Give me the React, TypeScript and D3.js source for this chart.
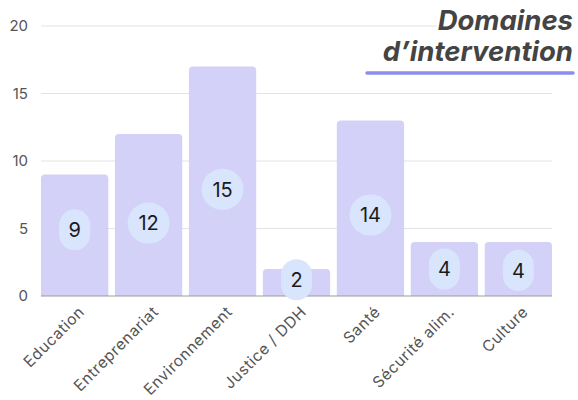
import React from "react";
import * as d3 from "d3";

const categories = ["Education", "Entreprenariat", "Environnement", "Justice / DDH", "Santé", "Sécurité alim.", "Culture"];
const barValues = [9, 12, 17, 2, 13, 4, 4];
const labelValues = [9, 12, 15, 2, 14, 4, 4];
const labelPositions = [4.9, 5.4, 7.9, 1.2, 6.0, 2.0, 1.9];
const yTicks = [0, 5, 10, 15, 20];
const titleLines = ["Domaines", "d\u2019intervention"];

const W = 578, H = 400;
const left = 41, right = 552, top = 26, bottom = 296;

export default function App() {
  const x = d3.scaleBand<string>().domain(categories).range([left, right]).paddingInner(0.09).paddingOuter(0);
  const y = d3.scaleLinear().domain([0, 20]).range([bottom, top]);
  const bw = x.bandwidth();
  const r = 4;
  const barPath = (cx: number, v: number) => {
    const x0 = cx, x1 = cx + bw, y0 = y(v), yb = y(0);
    const p = d3.path();
    p.moveTo(x0, yb);
    p.lineTo(x0, y0 + r);
    p.arcTo(x0, y0, x0 + r, y0, r);
    p.lineTo(x1 - r, y0);
    p.arcTo(x1, y0, x1, y0 + r, r);
    p.lineTo(x1, yb);
    p.closePath();
    return p.toString();
  };
  const font = "Inter, sans-serif";
  return (
    <svg width={W} height={H} style={{ position: "absolute", left: 0, top: 0 }}>
      <rect width={W} height={H} fill="#fff" />
      {yTicks.map((t) => (
        <g key={t}>
          {t !== 0 && <line x1={left} x2={right} y1={y(t)} y2={y(t)} stroke="#e3e3e3" strokeWidth={1} />}
          <text x={28} y={y(t)} dy="0.36em" textAnchor="end" fontFamily={font} fontSize={15} fill="#555">{t}</text>
        </g>
      ))}
      <rect x={437} y={8} width={140} height={30} fill="#fff" />
      {categories.map((c, i) => (
        <path key={c} d={barPath(x(c)!, barValues[i])} fill="#d3d1f8" />
      ))}
      <line x1={left} x2={right} y1={y(0)} y2={y(0)} stroke="#9a9a9a" strokeWidth={1} />
      {categories.map((c, i) => {
        const txt = String(labelValues[i]);
        const h = 41;
        const w = txt.length > 1 ? 42 : 31;
        const cx = x(c)! + bw / 2;
        const cy = y(labelPositions[i]);
        return (
          <g key={c + "l"}>
            <rect x={cx - w / 2} y={cy - h / 2} width={w} height={h} rx={Math.min(w, h) / 2} fill="#d9e5fd" />
            <text x={cx} y={cy} dy="0.36em" textAnchor="middle" fontFamily={font} fontSize={20} fill="#1a1a1a">{txt}</text>
          </g>
        );
      })}
      {categories.map((c) => {
        const cx = x(c)! + bw / 2;
        return (
          <text key={c + "x"} transform={`translate(${cx + 7},${309}) rotate(-45)`} textAnchor="end" dy="0.35em" fontFamily={font} fontSize={15.5} letterSpacing={0.6} fill="#555">{c}</text>
        );
      })}
      {titleLines.map((t, i) => (
        <text key={t} x={573} y={30 + i * 31} textAnchor="end" fontFamily={font} fontStyle="italic" fontWeight={700} fontSize={27.5} fill="#444">{t}</text>
      ))}
      <line x1={367} x2={573} y1={73} y2={73} stroke="#8f8cf0" strokeWidth={3.5} strokeLinecap="round" />
    </svg>
  );
}
